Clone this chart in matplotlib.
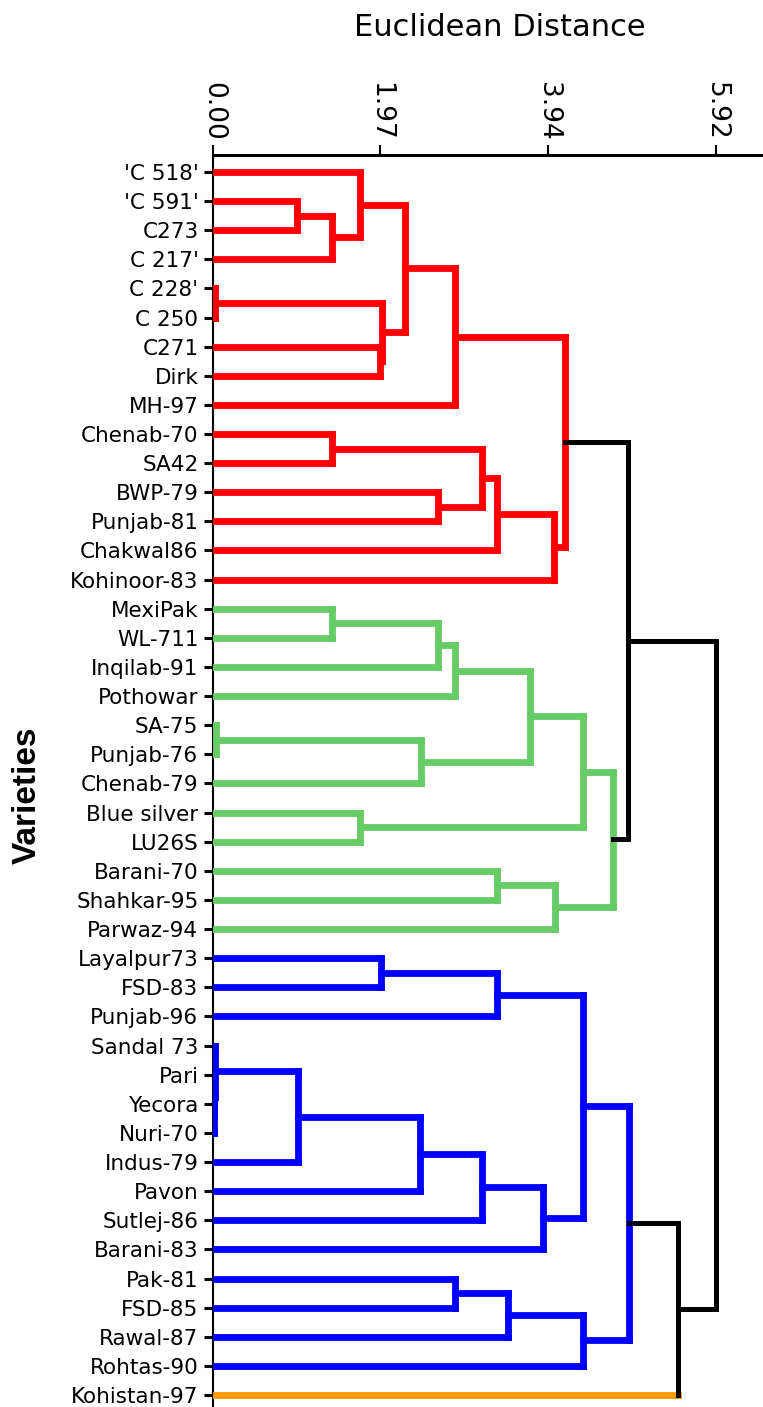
import matplotlib.pyplot as plt

# varieties, top to bottom as they appear in the tree
leaves = ["'C 518'", "'C 591'", "C273", "C 217'", "C 228'", "C 250", "C271", "Dirk",
          "MH-97", "Chenab-70", "SA42", "BWP-79", "Punjab-81", "Chakwal86", "Kohinoor-83",
          "MexiPak", "WL-711", "Inqilab-91", "Pothowar", "SA-75", "Punjab-76", "Chenab-79",
          "Blue silver", "LU26S", "Barani-70", "Shahkar-95", "Parwaz-94",
          "Layalpur73", "FSD-83", "Punjab-96", "Sandal 73", "Pari", "Yecora", "Nuri-70",
          "Indus-79", "Pavon", "Sutlej-86", "Barani-83", "Pak-81", "FSD-85", "Rawal-87",
          "Rohtas-90", "Kohistan-97"]

# clusters (consecutive leaves) and their colours
cluster_sizes = [15, 12, 15, 1]
cluster_colors = ["#ff0000", "#66cc66", "#0000ff", "#ff9900"]

# merges: node, left child, right child, euclidean distance
merges = [
    ("r1", "'C 591'", "C273", 0.99),
    ("r2", "r1", "C 217'", 1.40),
    ("r3", "'C 518'", "r2", 1.73),
    ("r4", "C 228'", "C 250", 0.02),
    ("r5", "C271", "Dirk", 1.96),
    ("r6", "r4", "r5", 1.99),
    ("r7", "r3", "r6", 2.26),
    ("r8", "r7", "MH-97", 2.85),
    ("r9", "Chenab-70", "SA42", 1.40),
    ("r10", "BWP-79", "Punjab-81", 2.65),
    ("r11", "r9", "r10", 3.16),
    ("r12", "r11", "Chakwal86", 3.34),
    ("r13", "r12", "Kohinoor-83", 4.01),
    ("r14", "r8", "r13", 4.14),
    ("g1", "MexiPak", "WL-711", 1.40),
    ("g2", "g1", "Inqilab-91", 2.65),
    ("g3", "g2", "Pothowar", 2.85),
    ("g4", "SA-75", "Punjab-76", 0.03),
    ("g5", "g4", "Chenab-79", 2.45),
    ("g6", "g3", "g5", 3.73),
    ("g7", "Blue silver", "LU26S", 1.73),
    ("g8", "g6", "g7", 4.35),
    ("g9", "Barani-70", "Shahkar-95", 3.34),
    ("g10", "g9", "Parwaz-94", 4.02),
    ("g11", "g8", "g10", 4.71),
    ("b1", "Layalpur73", "FSD-83", 1.98),
    ("b2", "b1", "Punjab-96", 3.34),
    ("b3", "Yecora", "Nuri-70", 0.01),
    ("b4", "Pari", "b3", 0.015),
    ("b5", "Sandal 73", "b4", 0.02),
    ("b6", "b5", "Indus-79", 1.00),
    ("b7", "b6", "Pavon", 2.44),
    ("b8", "b7", "Sutlej-86", 3.16),
    ("b9", "b8", "Barani-83", 3.88),
    ("b10", "b2", "b9", 4.35),
    ("b11", "Pak-81", "FSD-85", 2.85),
    ("b12", "b11", "Rawal-87", 3.47),
    ("b13", "b12", "Rohtas-90", 4.35),
    ("b14", "b10", "b13", 4.89),
    ("k1", "r14", "g11", 4.88),
    ("k2", "b14", "Kohistan-97", 5.47),
    ("k3", "k1", "k2", 5.92),
]

xticks = [0.0, 1.97, 3.94, 5.92]
xticklabels = ["0.00", "1.97", "3.94", "5.92"]

# ---- tree geometry
ypos, hgt, col = {}, {}, {}
i = 0
for size, c in zip(cluster_sizes, cluster_colors):
    for name in leaves[i:i + size]:
        ypos[name] = leaves.index(name)
        hgt[name] = 0.0
        col[name] = c
    i += size
leaf_col = dict(col)

fig = plt.figure(figsize=(7.63, 14.07), dpi=100)
ax = fig.add_axes([213 / 763, 0, 1 - 213 / 763, 1 - 155 / 1407])

LW_C, LW_K = 4.9, 3.6
for node, a, b, h in merges:
    same = col[a] == col[b] and col[a] != "k"
    c = col[a] if same else "k"
    for ch in (a, b):
        leg = c if same else (leaf_col[ch] if ch in leaf_col else "k")
        ax.plot([hgt[ch], h], [ypos[ch], ypos[ch]], color=leg,
                lw=LW_K if leg == "k" else LW_C, solid_capstyle="projecting", zorder=3)
    ax.plot([h, h], [ypos[a], ypos[b]], color=c,
            lw=LW_K if c == "k" else LW_C, solid_capstyle="projecting", zorder=3)
    ypos[node] = (ypos[a] + ypos[b]) / 2
    hgt[node] = h
    col[node] = c

ax.set_xlim(0, 6.47)
ax.set_ylim(42.41, -0.58)

ax.xaxis.tick_top()
ax.set_xticks(xticks)
ax.set_xticklabels(xticklabels, rotation=-90, fontsize=19)
ax.set_yticks(range(len(leaves)))
ax.set_yticklabels(leaves, fontsize=15.5)
ax.tick_params(axis="x", length=7, width=1.5, pad=3)
ax.tick_params(axis="y", length=6.5, width=2.2, pad=4)

ax.spines["right"].set_visible(False)
ax.spines["bottom"].set_visible(False)
ax.spines["top"].set_linewidth(2.2)
ax.spines["left"].set_linewidth(1.5)

fig.text(500 / 763, 1 - 28 / 1407, "Euclidean Distance", ha="center", va="center", fontsize=22)
fig.text(27 / 763, 1 - 795 / 1407, "Varieties", ha="center", va="center", rotation=90,
         fontsize=24, fontweight="bold", family="Liberation Sans")

fig.savefig("out.png", dpi=100)
